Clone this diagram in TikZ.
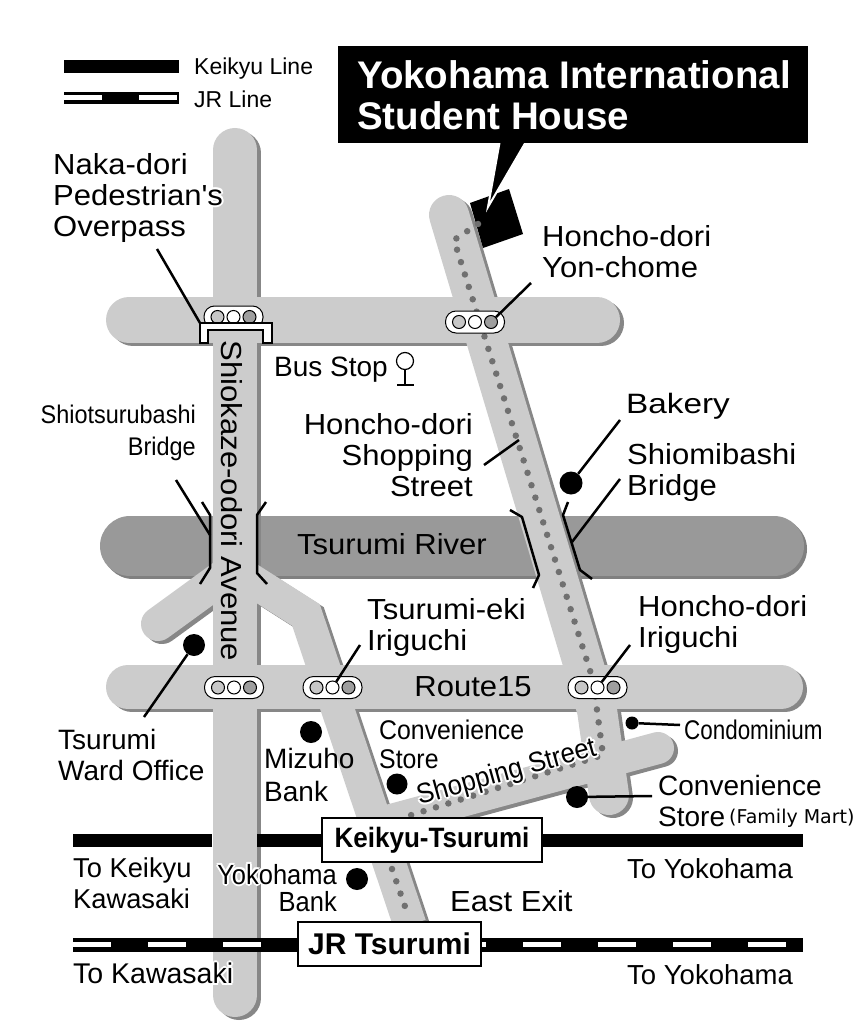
\documentclass[tikz,border=0pt]{standalone}
\usepackage{fontspec}
\usepackage{contour}
\setmainfont{Liberation Sans}
\newfontfamily\widefont[FakeStretch=1.07]{Liberation Sans}
\newfontfamily\bakeryfont[FakeStretch=1.19]{Liberation Sans}
\newfontfamily\narrowfont[FakeStretch=0.92]{Liberation Sans}
\newfontfamily\condofont[FakeStretch=0.83]{Liberation Sans}
\newfontfamily\boldnarrowfont[FakeStretch=0.93,Ligatures=TeX]{Liberation Sans Bold}
\newfontfamily\vera{DejaVu Sans}
\contourlength{2pt}
\contournumber{8}
\definecolor{roadtop}{gray}{0.80}
\definecolor{roadshade}{gray}{0.53}
\definecolor{rivertop}{gray}{0.60}
\definecolor{rivershade}{gray}{0.50}
\definecolor{dotgrey}{gray}{0.44}
\begin{document}
\begin{tikzpicture}[x=1pt,y=-1pt]
\tikzset{
  wide/.style={inner sep=0pt, anchor=north west, align=left, font=\widefont\fontsize{29}{31}\selectfont},
  plain/.style={inner sep=0pt, anchor=north west, align=left, font=\fontsize{28}{31}\selectfont},
  narrow/.style={inner sep=0pt, anchor=north west, align=left, font=\narrowfont\fontsize{27}{29}\selectfont},
  leader/.style={draw, line width=2.5pt},
  road/.style={line width=#1, line cap=round, line join=miter},
  bridge/.style={draw, line width=2.5pt, line join=round},
  spot/.style={circle, fill=black, inner sep=0pt, minimum size=#1},
  station/.style={draw, line width=2.5pt, fill=white, inner sep=0pt, font=\bfseries},
  lamp/.style={circle, draw, line width=1pt, inner sep=0pt, minimum size=13pt, fill=#1},
  signal/.style={draw, line width=1pt, fill=white, rounded corners=10.5pt, inner sep=0pt, minimum width=59pt, minimum height=22pt},
  jrline/.style={line width=14pt},
  jrdash/.style={white, line width=5pt, dash pattern=on 37.5pt off 37.5pt},
  stops/.style={dotgrey, line width=6.5pt, line cap=round, dash pattern=on 0pt off 13pt},
}
\useasboundingbox (0,0) rectangle (864,1024);

% river
\draw[rivershade, road=60pt] (133,549) -- (777,549);
\draw[rivertop, road=60pt] (130,546) -- (774,546);

% road shadows
\begin{scope}[roadshade, shift={(4,3)}]
\draw[road=44pt] (235,150) -- (235,995);
\draw[road=46pt] (129,320) -- (597,320);
\draw[road=44pt] (128,687) -- (781,687);
\draw[road=40pt] (449,215) -- (597,710) -- (609,795);
\draw[road=34pt] (235,568) -- (158,624);
\draw[line width=33pt, line join=miter] (240,573) -- (306,615) -- (410,925);
\draw[road=32pt] (658,748) -- (380,823);
\end{scope}

% road tops
\begin{scope}[roadtop]
\draw[road=44pt] (235,150) -- (235,995);
\draw[road=46pt] (129,320) -- (597,320);
\draw[road=44pt] (128,687) -- (781,687);
\draw[road=40pt] (449,215) -- (597,710) -- (609,795);
\draw[road=34pt] (235,568) -- (158,624);
\draw[line width=33pt, line join=miter] (240,573) -- (306,615) -- (410,925);
\draw[road=32pt] (658,748) -- (380,823);
\end{scope}

% student house
\fill[black] (470,203) -- (509,189) -- (523,234) -- (483,248) -- cycle;
\draw[white, line width=2pt, fill=black] (500,140) -- (488,207) -- (527,140) -- cycle;
\node[fill=black, minimum width=470pt, minimum height=97pt, inner sep=0pt] (housebox) at (573,94.5) {};
\node[inner sep=0pt, anchor=north west, align=left, text=white, font=\bfseries\fontsize{38.5}{41}\selectfont] (housename) at (357,60) {Yokohama International\\Student House};

% walking route
\draw[stops] (478,224) -- (454,240) -- (593,680) -- (603,755) -- (405,817);
\draw[stops] (392,869) -- (409,918);

% bridges
\draw[bridge] (202,502) -- (210,515) -- (210,568) -- (200,584);
\draw[bridge] (266,502) -- (257,515) -- (257,573) -- (267,584);
\draw[bridge] (510,510) -- (522,517) -- (539,575) -- (533,588);
\draw[bridge] (568,502) -- (563,515) -- (580,570) -- (592,579);

% signals
\foreach \sname/\sx/\sy in {sigA/233.5/317, sigB/475/322, sigC/234/687.5, sigD/332.5/687.5, sigE/597.5/687.5} {
  \node[signal] (\sname) at (\sx,\sy) {};
  \node[lamp=black!22] (\sname l) at (\sx-16,\sy) {};
  \node[lamp=white] (\sname m) at (\sx,\sy) {};
  \node[lamp=black!38] (\sname r) at (\sx+16,\sy) {};
}

% overpass
\draw[line width=1.6pt, fill=white] (200,323) -- (272,323) -- (272,343) -- (263,343) -- (263,330) -- (208,330) -- (208,343) -- (200,343) -- cycle;

% legend
\draw[line width=13pt] (64,66.5) -- (179,66.5);
\draw[line width=12pt] (64,98) -- (179,98);
\draw[white, line width=5pt] (64,98) -- (102,98) (139,98) -- (177,98);
\node[inner sep=0pt, anchor=north west, font=\fontsize{23}{25}\selectfont] (keikyulegend) at (194,58) {Keikyu Line};
\node[inner sep=0pt, anchor=north west, font=\fontsize{23}{25}\selectfont] (jrlegend) at (194,91) {JR Line};

% railways
\draw[line width=13pt] (73,840) -- (212,840) (257,840) -- (803,840);
\draw[jrline] (73,945) -- (803,945);
\draw[jrdash] (73,944.5) -- (803,944.5);
\node[station, minimum width=220pt, minimum height=44pt] (keikyubox) at (432,840) {\boldnarrowfont\fontsize{28}{30}\selectfont Keikyu-Tsurumi};
\node[station, minimum width=183pt, minimum height=44pt] (jrbox) at (389.5,944) {\fontsize{30}{32}\selectfont JR Tsurumi};

% landmarks
\node[spot=23pt] (bakery) at (571,483) {};
\node[spot=22pt] (wardoffice) at (194,645) {};
\node[spot=22pt] (mizuho) at (311,732) {};
\node[spot=21pt] (storeA) at (397,784) {};
\node[spot=22pt] (storeB) at (577,797) {};
\node[spot=22pt] (yokohamabank) at (357,879) {};
\node[spot=13pt] (condo) at (632,723) {};
\node[circle, draw, line width=1.2pt, inner sep=0pt, minimum size=17pt] (busstop) at (405,361) {};
\coordinate (busfoot) at (405,385);
\draw[line width=1.2pt] (busstop) -- (busfoot);
\draw[line width=1.2pt] (397,385) -- (414,385);

% labels
\node[wide] (naka) at (53,153) {Naka-dori\\\contour{white}{Pedestrian's}\\Overpass};
\node[wide] (yonchome) at (542,225) {Honcho-dori\\Yon-chome};
\node[plain] (busstoptext) at (274,357) {Bus Stop};
\node[wide, anchor=north east, align=right] (shopstreet) at (473,413) {Honcho-dori\\Shopping\\Street};
\node[inner sep=0pt, anchor=north west, font=\bakeryfont\fontsize{28}{31}\selectfont] (bakerytext) at (626,393) {Bakery};
\node[wide] (shiomibashi) at (627,443) {Shiomibashi\\Bridge};
\node[narrow, anchor=north east, align=right, font=\narrowfont\fontsize{25.5}{32}\selectfont] (shiotsuru) at (196,405) {Shiotsurubashi\\Bridge};
\node[wide, anchor=center] (river) at (392,544) {Tsurumi River};
\node[wide] (ekiiriguchi) at (367,598) {Tsurumi-eki\\Iriguchi};
\node[wide] (hoiriguchi) at (638,595) {Honcho-dori\\Iriguchi};
\node[wide, anchor=center] (route) at (473,687) {Route15};
\node[plain] (wardtext) at (58,729) {Tsurumi\\Ward Office};
\node[plain, font=\fontsize{28}{33}\selectfont] (mizuhotext) at (264,748) {Mizuho\\Bank};
\node[narrow] (storeAtext) at (379,720) {Convenience\\Store};
\node[inner sep=0pt, anchor=north west, font=\condofont\fontsize{27}{29}\selectfont] (condotext) at (684,720) {Condominium};
\node[plain] (storeBtext) at (658,775) {Convenience\\Store};
\node[inner sep=0pt, anchor=base west, font=\vera\fontsize{19}{21}\selectfont] (familymart) at (729,823) {(Family Mart)};
\node[inner sep=0pt, rotate=-90, font=\widefont\fontsize{29}{30}\selectfont] (avenue) at (232,501) {Shiokaze-odori Avenue};
\node[inner sep=0pt, rotate=15.6, font=\narrowfont\fontsize{28}{30}\selectfont] (shoptext) at (507,774) {\contour{white}{Shopping Street}};
\node[plain, font=\fontsize{27.3}{31}\selectfont] (tokeikyu) at (73,858) {To Keikyu\\Kawasaki};
\node[plain, font=\fontsize{27.5}{31}\selectfont] (toyokoA) at (627,858) {To Yokohama};
\node[plain, font=\fontsize{27.5}{31}\selectfont] (toyokoB) at (627,964) {To Yokohama};
\node[plain, font=\fontsize{28.5}{31}\selectfont] (tokawasaki) at (73,963) {\contour{white}{To Kawasaki}};
\node[wide] (eastexit) at (450,890) {East Exit};
\node[narrow, anchor=north east, align=right, font=\narrowfont\fontsize{27.7}{27}\selectfont] (yokotext) at (337,864) {\contour{white}{Yokohama}\\Bank};

% leader lines
\coordinate (nakaend) at (157,249);
\coordinate (nakafoot) at (200,323);
\draw[leader] (nakaend) -- (nakafoot);
\coordinate (yonend) at (531,283);
\draw[leader] (yonend) -- (sigBr);
\coordinate (shopend) at (484,465);
\coordinate (shopfoot) at (519,440);
\draw[leader] (shopend) -- (shopfoot);
\coordinate (bakeryend) at (620,420);
\draw[leader] (bakeryend) -- (bakery);
\coordinate (shiomiend) at (620,479);
\coordinate (shiomifoot) at (572,542);
\draw[leader] (shiomiend) -- (shiomifoot);
\coordinate (shiotsend) at (176,480);
\coordinate (shiotsfoot) at (210,535);
\draw[leader] (shiotsend) -- (shiotsfoot);
\coordinate (wardend) at (144,717);
\draw[leader] (wardend) -- (wardoffice);
\coordinate (ekiend) at (360,645);
\draw[leader] (ekiend) -- (sigDm);
\coordinate (hoend) at (630,645);
\draw[leader] (hoend) -- (sigEm);
\coordinate (condoend) at (680,725);
\draw[leader] (condoend) -- (condo);
\coordinate (storeBend) at (652,796);
\draw[leader] (storeBend) -- (storeB);
\end{tikzpicture}
\end{document}
